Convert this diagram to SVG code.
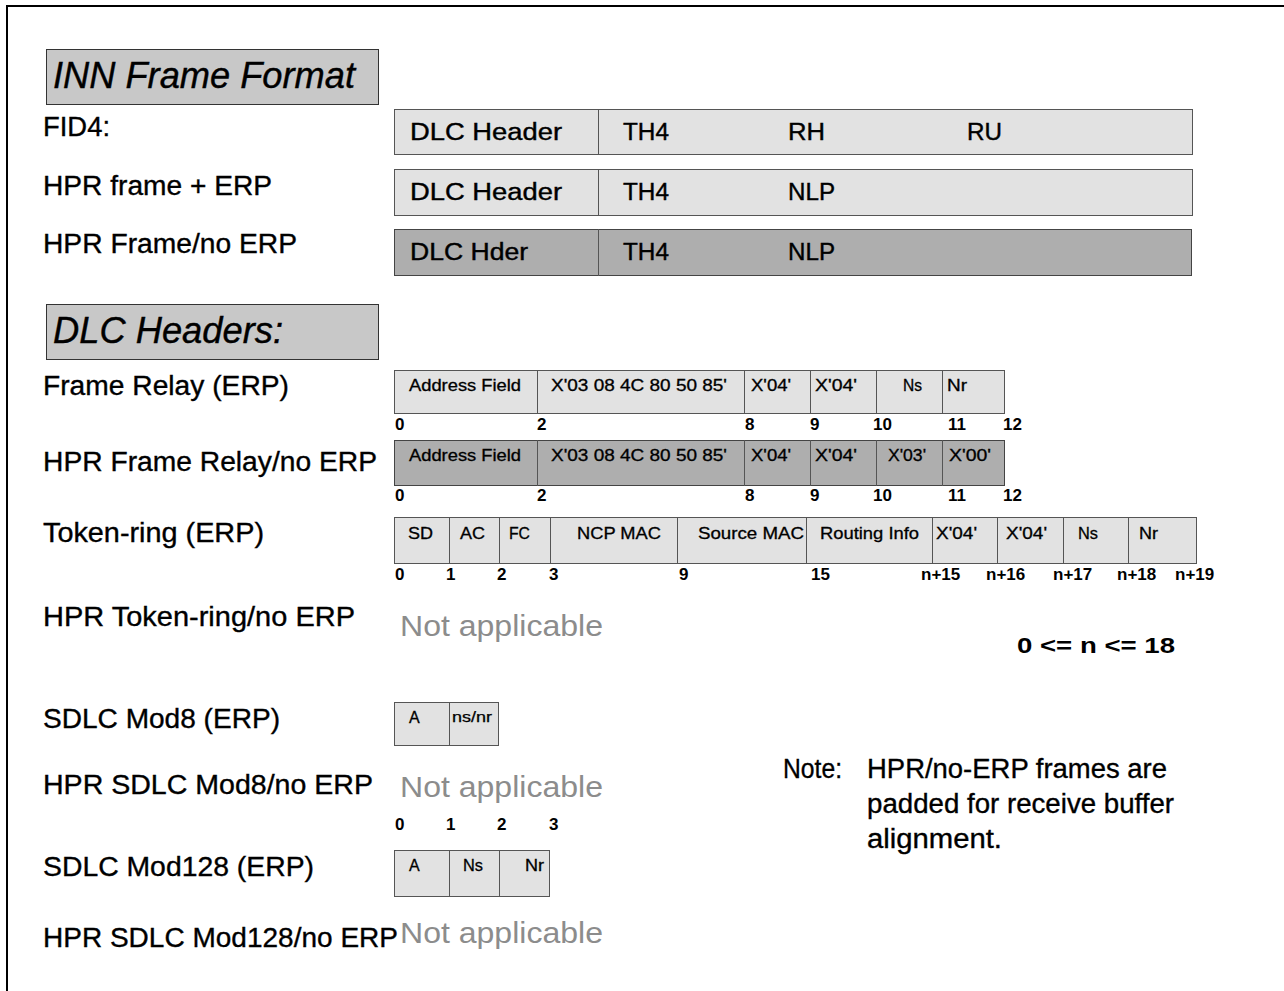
<svg xmlns="http://www.w3.org/2000/svg" width="1284" height="991" viewBox="0 0 1284 991">
<style>
text{font-family:"Liberation Sans",Arial,sans-serif;fill:#000}
.lbl{font-size:27px;stroke:#000;stroke-width:0.35}
.ttl{font-size:37px;font-style:italic;stroke:#000;stroke-width:0.4}
.big{font-size:23px;stroke:#000;stroke-width:0.4}
.sm{font-size:16px;stroke:#000;stroke-width:0.3}
.xs{font-size:14px;stroke:#000;stroke-width:0.25}
.num{font-size:17px;font-weight:bold}
.na{font-size:29px;fill:#8c8c8c}
.light{fill:#e2e2e2;stroke:#555;stroke-width:1}
.dark{fill:#aeaeae;stroke:#444;stroke-width:1}
.tbox{fill:#c8c8c8;stroke:#333;stroke-width:1}
.div{stroke:#555;stroke-width:1}
</style>
<rect width="1284" height="991" fill="#fff"/>
<path d="M7,991 V6 H1284" fill="none" stroke="#000" stroke-width="2"/>

<g id="title-inn">
<rect class="tbox" x="46.5" y="49.5" width="332" height="55"/>
<text class="ttl" x="53" y="88" textLength="302" lengthAdjust="spacingAndGlyphs">INN Frame Format</text>
</g>

<g id="labels-top">
<text class="lbl" x="43" y="136" textLength="67" lengthAdjust="spacingAndGlyphs">FID4:</text>
<text class="lbl" x="43" y="195" textLength="229" lengthAdjust="spacingAndGlyphs">HPR frame + ERP</text>
<text class="lbl" x="43" y="253" textLength="254" lengthAdjust="spacingAndGlyphs">HPR Frame/no ERP</text>
</g>

<g id="fid4">
<rect class="light" x="394.5" y="109.5" width="798" height="45"/>
<line class="div" x1="598.5" y1="109" x2="598.5" y2="154"/>
<text class="big" x="410" y="140" textLength="152" lengthAdjust="spacingAndGlyphs">DLC Header</text>
<text class="big" x="623" y="140" textLength="46" lengthAdjust="spacingAndGlyphs">TH4</text>
<text class="big" x="788" y="140" textLength="37" lengthAdjust="spacingAndGlyphs">RH</text>
<text class="big" x="967" y="140" textLength="35" lengthAdjust="spacingAndGlyphs">RU</text>
</g>

<g id="hpr-erp">
<rect class="light" x="394.5" y="169.5" width="798" height="46"/>
<line class="div" x1="598.5" y1="169" x2="598.5" y2="216"/>
<text class="big" x="410" y="200" textLength="152" lengthAdjust="spacingAndGlyphs">DLC Header</text>
<text class="big" x="623" y="200" textLength="46" lengthAdjust="spacingAndGlyphs">TH4</text>
<text class="big" x="788" y="200" textLength="47" lengthAdjust="spacingAndGlyphs">NLP</text>
</g>

<g id="hpr-noerp">
<rect class="dark" x="394.5" y="229.5" width="797" height="46"/>
<line class="div" x1="598.5" y1="229" x2="598.5" y2="276"/>
<text class="big" x="410" y="260" textLength="118" lengthAdjust="spacingAndGlyphs">DLC Hder</text>
<text class="big" x="623" y="260" textLength="46" lengthAdjust="spacingAndGlyphs">TH4</text>
<text class="big" x="788" y="260" textLength="47" lengthAdjust="spacingAndGlyphs">NLP</text>
</g>

<g id="title-dlc">
<rect class="tbox" x="46.5" y="304.5" width="332" height="55"/>
<text class="ttl" x="53" y="343" textLength="230" lengthAdjust="spacingAndGlyphs">DLC Headers:</text>
</g>

<g id="labels-dlc">
<text class="lbl" x="43" y="395" textLength="246" lengthAdjust="spacingAndGlyphs">Frame Relay (ERP)</text>
<text class="lbl" x="43" y="471" textLength="334" lengthAdjust="spacingAndGlyphs">HPR Frame Relay/no ERP</text>
<text class="lbl" x="43" y="542" textLength="221" lengthAdjust="spacingAndGlyphs">Token-ring (ERP)</text>
<text class="lbl" x="43" y="626" textLength="312" lengthAdjust="spacingAndGlyphs">HPR Token-ring/no ERP</text>
<text class="lbl" x="43" y="728" textLength="237" lengthAdjust="spacingAndGlyphs">SDLC Mod8 (ERP)</text>
<text class="lbl" x="43" y="794" textLength="330" lengthAdjust="spacingAndGlyphs">HPR SDLC Mod8/no ERP</text>
<text class="lbl" x="43" y="876" textLength="271" lengthAdjust="spacingAndGlyphs">SDLC Mod128 (ERP)</text>
<text class="lbl" x="43" y="947" textLength="355" lengthAdjust="spacingAndGlyphs">HPR SDLC Mod128/no ERP</text>
</g>

<g id="fr-erp">
<rect class="light" x="394.5" y="370.5" width="610" height="43"/>
<path class="div" d="M537.5,370V413M744.5,370V413M810.5,370V413M876.5,370V413M942.5,370V413"/>
<text class="sm" x="409" y="391" textLength="112" lengthAdjust="spacingAndGlyphs">Address Field</text>
<text class="sm" x="551" y="391" textLength="176" lengthAdjust="spacingAndGlyphs">X'03 08 4C 80 50 85'</text>
<text class="sm" x="751" y="391" textLength="40" lengthAdjust="spacingAndGlyphs">X'04'</text>
<text class="sm" x="815" y="391" textLength="42" lengthAdjust="spacingAndGlyphs">X'04'</text>
<text class="sm" x="903" y="391" textLength="19" lengthAdjust="spacingAndGlyphs">Ns</text>
<text class="sm" x="947" y="391" textLength="20" lengthAdjust="spacingAndGlyphs">Nr</text>
<text class="num" x="395" y="430">0</text>
<text class="num" x="537" y="430">2</text>
<text class="num" x="745" y="430">8</text>
<text class="num" x="810" y="430">9</text>
<text class="num" x="873" y="430">10</text>
<text class="num" x="948" y="430">11</text>
<text class="num" x="1003" y="430">12</text>
</g>

<g id="fr-noerp">
<rect class="dark" x="394.5" y="440.5" width="610" height="45"/>
<path class="div" d="M537.5,440V486M744.5,440V486M810.5,440V486M876.5,440V486M942.5,440V486"/>
<text class="sm" x="409" y="461" textLength="112" lengthAdjust="spacingAndGlyphs">Address Field</text>
<text class="sm" x="551" y="461" textLength="176" lengthAdjust="spacingAndGlyphs">X'03 08 4C 80 50 85'</text>
<text class="sm" x="751" y="461" textLength="40" lengthAdjust="spacingAndGlyphs">X'04'</text>
<text class="sm" x="815" y="461" textLength="42" lengthAdjust="spacingAndGlyphs">X'04'</text>
<text class="sm" x="888" y="461" textLength="38" lengthAdjust="spacingAndGlyphs">X'03'</text>
<text class="sm" x="949" y="461" textLength="42" lengthAdjust="spacingAndGlyphs">X'00'</text>
<text class="num" x="395" y="501">0</text>
<text class="num" x="537" y="501">2</text>
<text class="num" x="745" y="501">8</text>
<text class="num" x="810" y="501">9</text>
<text class="num" x="873" y="501">10</text>
<text class="num" x="948" y="501">11</text>
<text class="num" x="1003" y="501">12</text>
</g>

<g id="tr-erp">
<rect class="light" x="394.5" y="517.5" width="802" height="46"/>
<path class="div" d="M449.5,517V563M499.5,517V563M550.5,517V563M677.5,517V563M806.5,517V563M932.5,517V563M997.5,517V563M1063.5,517V563M1128.5,517V563"/>
<text class="sm" x="408" y="539" textLength="25" lengthAdjust="spacingAndGlyphs">SD</text>
<text class="sm" x="460" y="539" textLength="25" lengthAdjust="spacingAndGlyphs">AC</text>
<text class="sm" x="509" y="539" textLength="21" lengthAdjust="spacingAndGlyphs">FC</text>
<text class="sm" x="577" y="539" textLength="84" lengthAdjust="spacingAndGlyphs">NCP MAC</text>
<text class="sm" x="698" y="539" textLength="106" lengthAdjust="spacingAndGlyphs">Source MAC</text>
<text class="sm" x="820" y="539" textLength="99" lengthAdjust="spacingAndGlyphs">Routing Info</text>
<text class="sm" x="936" y="539" textLength="41" lengthAdjust="spacingAndGlyphs">X'04'</text>
<text class="sm" x="1006" y="539" textLength="41" lengthAdjust="spacingAndGlyphs">X'04'</text>
<text class="sm" x="1078" y="539" textLength="20" lengthAdjust="spacingAndGlyphs">Ns</text>
<text class="sm" x="1139" y="539" textLength="19" lengthAdjust="spacingAndGlyphs">Nr</text>
<text class="num" x="395" y="580">0</text>
<text class="num" x="446" y="580">1</text>
<text class="num" x="497" y="580">2</text>
<text class="num" x="549" y="580">3</text>
<text class="num" x="679" y="580">9</text>
<text class="num" x="811" y="580">15</text>
<text class="num" x="921" y="580">n+15</text>
<text class="num" x="986" y="580">n+16</text>
<text class="num" x="1053" y="580">n+17</text>
<text class="num" x="1117" y="580">n+18</text>
<text class="num" x="1175" y="580">n+19</text>
</g>

<g id="tr-noerp">
<text class="na" x="400" y="636" textLength="203" lengthAdjust="spacingAndGlyphs">Not applicable</text>
</g>

<g id="n-range">
<text class="big" x="1017" y="653" font-weight="bold" textLength="158" lengthAdjust="spacingAndGlyphs" style="stroke-width:0;font-size:22px">0 &lt;= n &lt;= 18</text>
</g>

<g id="sdlc8-erp">
<rect class="light" x="394.5" y="702.5" width="104" height="43"/>
<line class="div" x1="449.5" y1="702" x2="449.5" y2="745"/>
<text class="sm" x="409" y="723">A</text>
<text class="xs" x="452" y="722" textLength="40" lengthAdjust="spacingAndGlyphs">ns/nr</text>
</g>

<g id="sdlc8-noerp">
<text class="na" x="400" y="797" textLength="203" lengthAdjust="spacingAndGlyphs">Not applicable</text>
</g>

<g id="sdlc128-erp">
<text class="num" x="395" y="830">0</text>
<text class="num" x="446" y="830">1</text>
<text class="num" x="497" y="830">2</text>
<text class="num" x="549" y="830">3</text>
<rect class="light" x="394.5" y="850.5" width="155" height="46"/>
<path class="div" d="M449.5,850V897M499.5,850V897"/>
<text class="sm" x="409" y="871">A</text>
<text class="sm" x="463" y="871" textLength="20" lengthAdjust="spacingAndGlyphs">Ns</text>
<text class="sm" x="525" y="871" textLength="19" lengthAdjust="spacingAndGlyphs">Nr</text>
</g>

<g id="sdlc128-noerp">
<text class="na" x="400" y="943" textLength="203" lengthAdjust="spacingAndGlyphs">Not applicable</text>
</g>

<g id="note">
<text class="lbl" x="783" y="778" textLength="59" lengthAdjust="spacingAndGlyphs">Note:</text>
<text class="lbl" x="867" y="778" textLength="300" lengthAdjust="spacingAndGlyphs">HPR/no-ERP frames are</text>
<text class="lbl" x="867" y="813" textLength="307" lengthAdjust="spacingAndGlyphs">padded for receive buffer</text>
<text class="lbl" x="867" y="848" textLength="135" lengthAdjust="spacingAndGlyphs">alignment.</text>
</g>

<g id="connectors"></g>
</svg>
